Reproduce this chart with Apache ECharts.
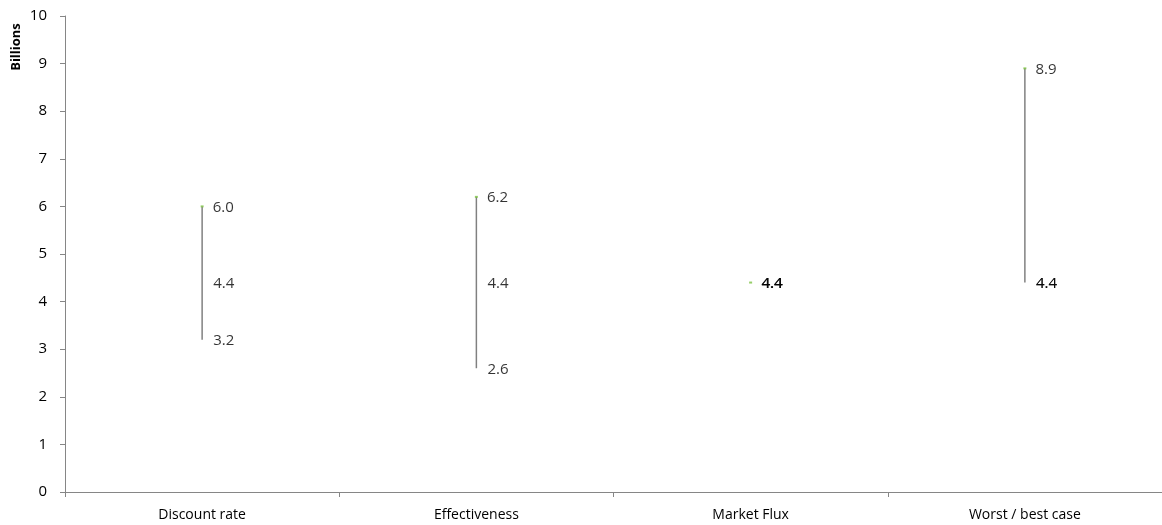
<!DOCTYPE html>
<html><head><meta charset="utf-8">
<script src="https://cdn.jsdelivr.net/npm/echarts@6/dist/echarts.min.js"></script>
<style>html,body{margin:0;padding:0;background:#fff}#c{width:1162px;height:525px}</style>
</head><body><div id="c"></div>
<script>
const categories = ['Discount rate', 'Effectiveness', 'Market Flux', 'Worst / best case'];
const highValues = [6.0, 6.2, 4.4, 8.9];
const midValues = [4.4, 4.4, 4.4, 4.4];
const lowValues = [3.2, 2.6, 4.4, 4.4];
const yTicks = [0, 1, 2, 3, 4, 5, 6, 7, 8, 9, 10];

const FONT = '"Open Sans", sans-serif';
const FS = 15;
const chart = echarts.init(document.getElementById('c'), null, {renderer: 'canvas'});
const mkLbl = (dist) => ({show: true, position: 'right', distance: dist, offset: [0, 1], color: '#000', fontSize: FS, fontFamily: FONT,
  formatter: p => Number(p.value[1]).toFixed(1)});
chart.setOption({
  animation: false,
  grid: {left: 65, right: 0, top: 16, bottom: 33, containLabel: false},
  xAxis: {type: 'category', data: categories, boundaryGap: true,
    axisLine: {lineStyle: {color: '#868686', width: 1}},
    axisTick: {show: true, alignWithLabel: false, length: 5, lineStyle: {color: '#868686'}},
    axisLabel: {color: '#000', fontSize: FS - 1, fontFamily: FONT, margin: 16},
    splitLine: {show: false}},
  yAxis: {type: 'value', min: yTicks[0], max: yTicks[yTicks.length - 1], interval: 1,
    axisLine: {show: true, lineStyle: {color: '#868686', width: 1}},
    axisTick: {show: true, length: 5, lineStyle: {color: '#868686'}},
    axisLabel: {color: '#000', fontSize: FS, fontFamily: FONT, margin: 18},
    splitLine: {show: false}},
  graphic: [{type: 'text', rotation: Math.PI / 2,
    style: {text: 'Billions', fill: '#000', font: 'bold 13px ' + FONT, textAlign: 'center', textVerticalAlign: 'middle'},
    x: 16, y: 47}],
  series: [
    {type: 'custom', data: categories.map((c, i) => [i, lowValues[i], highValues[i]]),
     renderItem: (params, api) => {
       const p1 = api.coord([api.value(0), api.value(1)]);
       const p2 = api.coord([api.value(0), api.value(2)]);
       return {type: 'line', shape: {x1: p1[0], y1: p1[1], x2: p2[0], y2: p2[1]},
         style: {stroke: '#808080', lineWidth: 1.5}};
     }, z: 2},
    {type: 'scatter', data: categories.map((c, i) => [i, highValues[i]]), symbol: 'rect', symbolSize: [3, 2],
     itemStyle: {color: '#7cc242'}, label: mkLbl(9), z: 3},
    {type: 'scatter', data: categories.map((c, i) => [i, midValues[i]]), symbolSize: 0, label: mkLbl(11), z: 3},
    {type: 'scatter', data: categories.map((c, i) => [i, lowValues[i]]), symbolSize: 0, label: mkLbl(11), z: 3}
  ]
});
</script></body></html>
